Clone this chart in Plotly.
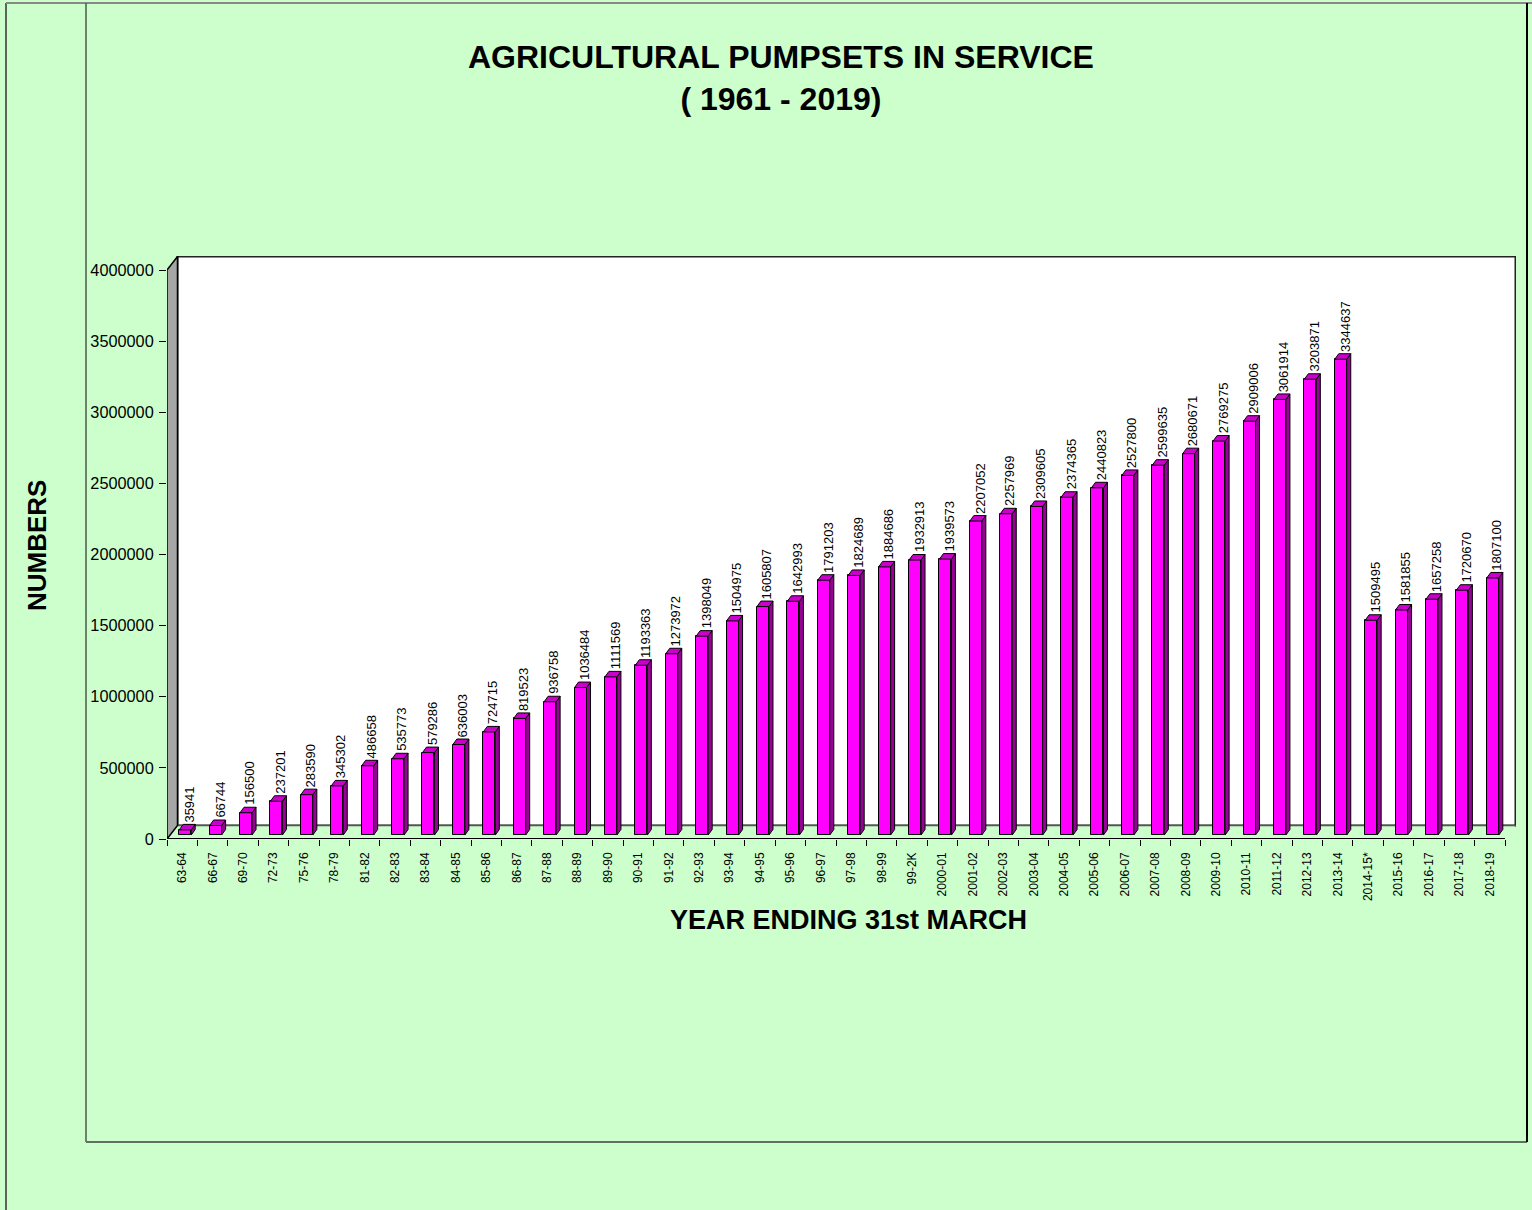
import plotly.graph_objects as go

# ---------------- data ----------------
categories = ["63-64", "66-67", "69-70", "72-73", "75-76", "78-79", "81-82", "82-83",
              "83-84", "84-85", "85-86", "86-87", "87-88", "88-89", "89-90", "90-91",
              "91-92", "92-93", "93-94", "94-95", "95-96", "96-97", "97-98", "98-99",
              "99-2K", "2000-01", "2001-02", "2002-03", "2003-04", "2004-05", "2005-06",
              "2006-07", "2007-08", "2008-09", "2009-10", "2010-11", "2011-12", "2012-13",
              "2013-14", "2014-15*", "2015-16", "2016-17", "2017-18", "2018-19"]
pumpsets = [35941, 66744, 156500, 237201, 283590, 345302, 486658, 535773,
            579286, 636003, 724715, 819523, 936758, 1036484, 1111569, 1193363,
            1273972, 1398049, 1504975, 1605807, 1642993, 1791203, 1824689, 1884686,
            1932913, 1939573, 2207052, 2257969, 2309605, 2374365, 2440823,
            2527800, 2599635, 2680671, 2769275, 2909006, 3061914, 3203871,
            3344637, 1509495, 1581855, 1657258, 1720670, 1807100]
y_tick_values = [0, 500000, 1000000, 1500000, 2000000, 2500000, 3000000, 3500000, 4000000]
y_tick_labels = [str(v) for v in y_tick_values]

title_text = "<b>AGRICULTURAL PUMPSETS IN SERVICE<br>( 1961 - 2019)</b>"
x_title = "<b>YEAR ENDING 31st MARCH</b>"
y_title = "<b>NUMBERS</b>"

# ---------------- geometry / style ----------------
W, H = 1532, 1210
FONT = "Liberation Sans, Arial, Helvetica, sans-serif"
BG = "#CCFFCC"
FRONT = "#FF00FF"
SIDE = "#990099"
TOP = "#CC00CC"

n = len(categories)
AX_L, AX_R_FRONT, AX_R_BACK = 167, 1505, 1516
AX_BOTTOM, AX_TOP = 839, 256
Y_MAX_PX = 270
px_per_cat = (AX_R_FRONT - AX_L) / n
units_per_px = y_tick_values[-1] / (AX_BOTTOM - Y_MAX_PX)
x_min = -0.5
x_max = n - 0.5 + (AX_R_BACK - AX_R_FRONT) / px_per_cat
y_top = (AX_BOTTOM - AX_TOP) * units_per_px


def cx(px):
    return px / px_per_cat


def cy(px):
    return px * units_per_px


WALL_DX, WALL_DY = cx(10.5), cy(13.5)
BAR_W = cx(12)
BAR_SHIFT, BAR_BASE = cx(3), cy(4)
BAR_DX, BAR_DY = cx(4), cy(5.5)
LABEL_SHIFT = cx(4)
xs_pos = [i + BAR_SHIFT for i in range(n)]
y_full = y_tick_values[-1]


def px_x(px):
    return px / W


def px_y(py):
    return 1 - py / H


fig = go.Figure()

# front faces
fig.add_trace(go.Bar(
    x=xs_pos, y=pumpsets, base=BAR_BASE, width=BAR_W,
    marker=dict(color=FRONT, line=dict(color="black", width=1)),
    hoverinfo="skip", showlegend=False))

# side and top faces
sx, sy, tx, ty = [], [], [], []
for xc, v in zip(xs_pos, pumpsets):
    l = xc - BAR_W / 2
    r = xc + BAR_W / 2
    t = BAR_BASE + v
    sx += [r, r + BAR_DX, r + BAR_DX, r, r, None]
    sy += [BAR_BASE, BAR_BASE + BAR_DY, t + BAR_DY, t, BAR_BASE, None]
    tx += [l, l + BAR_DX, r + BAR_DX, r, l, None]
    ty += [t, t + BAR_DY, t + BAR_DY, t, t, None]
fig.add_trace(go.Scatter(x=sx, y=sy, mode="lines", fill="toself", fillcolor=SIDE,
                         line=dict(color="black", width=1), hoverinfo="skip", showlegend=False))
fig.add_trace(go.Scatter(x=tx, y=ty, mode="lines", fill="toself", fillcolor=TOP,
                         line=dict(color="black", width=1), hoverinfo="skip", showlegend=False))

shapes = []
# back wall
shapes.append(dict(type="rect", xref="x", yref="y", layer="below",
                   x0=x_min + WALL_DX, x1=n - 0.5 + WALL_DX, y0=WALL_DY, y1=y_full + WALL_DY,
                   fillcolor="white", line=dict(color="#222222", width=2)))
# floor
shapes.append(dict(type="path", xref="x", yref="y", layer="below",
                   path=f"M {x_min},0 L {n-0.5},0 L {n-0.5+WALL_DX},{WALL_DY} L {x_min+WALL_DX},{WALL_DY} Z",
                   fillcolor=BG, line=dict(width=0)))
shapes.append(dict(type="line", xref="x", yref="y", layer="below",
                   x0=x_min + WALL_DX, x1=n - 0.5 + WALL_DX, y0=WALL_DY, y1=WALL_DY,
                   line=dict(color="#555555", width=1.5)))
# left wall
shapes.append(dict(type="path", xref="x", yref="y", layer="below",
                   path=f"M {x_min},0 L {x_min},{y_full} L {x_min+WALL_DX},{y_full+WALL_DY} L {x_min+WALL_DX},{WALL_DY} Z",
                   fillcolor="#A6A6A6", line=dict(color="black", width=1.5)))
# front axis line
shapes.append(dict(type="line", xref="x", yref="y", layer="above",
                   x0=x_min, x1=n - 0.5, y0=0, y1=0, line=dict(color="black", width=2)))

# chart-area borders
shapes += [
    dict(type="line", xref="paper", yref="paper", x0=px_x(6), x1=px_x(6), y0=px_y(3), y1=px_y(1210),
         line=dict(color="#333333", width=1.5)),
    dict(type="line", xref="paper", yref="paper", x0=px_x(6), x1=px_x(1532), y0=px_y(3), y1=px_y(3),
         line=dict(color="#888888", width=2)),
    dict(type="line", xref="paper", yref="paper", x0=px_x(86), x1=px_x(86), y0=px_y(3), y1=px_y(1142),
         line=dict(color="#4A5A4A", width=1.5)),
    dict(type="line", xref="paper", yref="paper", x0=px_x(86), x1=px_x(1527), y0=px_y(1142), y1=px_y(1142),
         line=dict(color="#607060", width=2)),
    dict(type="line", xref="paper", yref="paper", x0=px_x(1527), x1=px_x(1527), y0=px_y(3), y1=px_y(1142),
         line=dict(color="black", width=2)),
]

annotations = []
for xc, v in zip(xs_pos, pumpsets):
    annotations.append(dict(x=xc + LABEL_SHIFT, y=BAR_BASE + v + BAR_DY, xref="x", yref="y",
                            text=str(v), textangle=-90, showarrow=False,
                            xanchor="center", yanchor="bottom",
                            font=dict(family=FONT, size=13, color="black")))
annotations += [
    dict(x=px_x(781), y=px_y(37), xref="paper", yref="paper", text=title_text, showarrow=False,
         xanchor="center", yanchor="top", font=dict(family=FONT, size=32, color="black")),
    dict(x=px_x(848), y=px_y(920), xref="paper", yref="paper", text=x_title, showarrow=False,
         xanchor="center", yanchor="middle", font=dict(family=FONT, size=27, color="black")),
    dict(x=px_x(37), y=px_y(546), xref="paper", yref="paper", text=y_title, showarrow=False,
         textangle=-90, xanchor="center", yanchor="middle", font=dict(family=FONT, size=26, color="black")),
]

fig.update_layout(
    width=W, height=H, autosize=False,
    margin=dict(l=0, r=0, t=0, b=0),
    paper_bgcolor=BG, plot_bgcolor="rgba(0,0,0,0)",
    shapes=shapes, annotations=annotations,
    showlegend=False, bargap=0,
    font=dict(family=FONT, color="black"),
    xaxis=dict(domain=[px_x(AX_L), px_x(AX_R_BACK)], range=[x_min, x_max],
               tickmode="array", tickvals=list(range(n)), ticktext=categories,
               tickangle=-90, ticks="", showline=False, showgrid=False, zeroline=False,
               ticklabelstandoff=10,
               tickfont=dict(family=FONT, size=12, color="black"),
               minor=dict(tickmode="array", tickvals=[i - 0.5 for i in range(n + 1)],
                          ticks="outside", ticklen=6, tickcolor="black", tickwidth=1, showgrid=False),
               automargin=False, fixedrange=True),
    yaxis=dict(domain=[px_y(AX_BOTTOM), px_y(AX_TOP)], range=[0, y_top],
               tickmode="array", tickvals=y_tick_values, ticktext=y_tick_labels,
               ticks="outside", ticklen=7, tickcolor="black", tickwidth=1,
               ticklabelstandoff=2,
               showline=False, showgrid=False, zeroline=False,
               tickfont=dict(family=FONT, size=16.3, color="black"),
               automargin=False, fixedrange=True),
)

fig.write_html("out.html", config={"displayModeBar": False},
               post_script="document.body.style.margin='0';")
